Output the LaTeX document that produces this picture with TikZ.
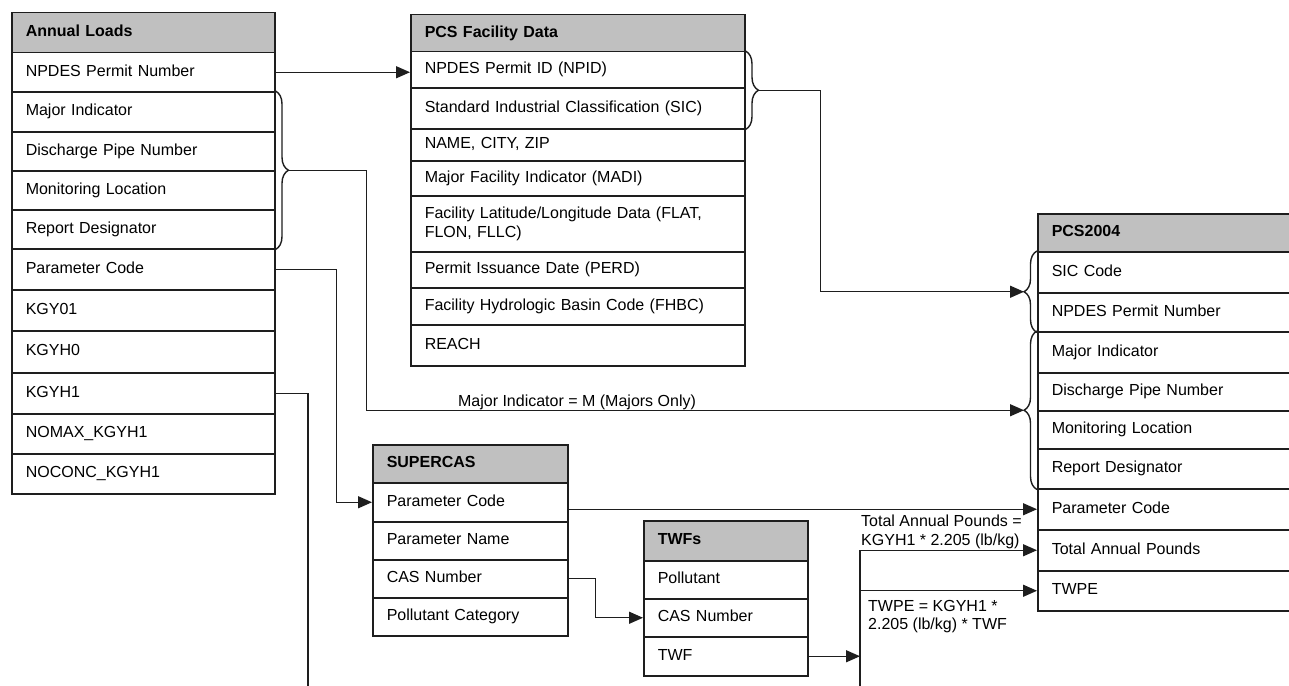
\documentclass[tikz,border=0pt]{standalone}
\usepackage{fontspec}
\setmainfont{Liberation Sans}
\usetikzlibrary{arrows.meta,decorations.pathreplacing,calc}
\definecolor{linec}{HTML}{1E1E1E}
\definecolor{hdrgray}{HTML}{C0C0C0}
\begin{document}
\begin{tikzpicture}[x=1pt,y=-1pt,
  font=\fontsize{16}{18.5}\selectfont,
  cell/.style={draw=linec, line width=1.5pt, rectangle, anchor=north west,
    align=left, inner xsep=14pt, inner ysep=0pt, text=black},
  one/.style={cell, text height=12pt, text depth=4pt},
  head/.style={one, fill=hdrgray, font=\fontsize{16}{18.5}\selectfont\bfseries},
  alw/.style={text width=235pt},
  pfw/.style={text width=306pt},
  scw/.style={text width=167pt},
  tww/.style={text width=136pt},
  p4w/.style={text width=242pt},
  conn/.style={draw=linec, line width=1.4pt},
  arr/.style={conn, -{Triangle[length=14pt,width=12pt]}},
  brace/.style={draw=linec, line width=1.4pt, decorate,
    decoration={brace, amplitude=13pt}},
  lbl/.style={inner sep=0pt, text=black, align=left}]

\useasboundingbox (0,0) rectangle (1289,685);
\fill[white] (0,0) rectangle (1289,685);
\clip (0,0) rectangle (1289,685);

% Annual Loads
\node[head, alw, minimum height=40pt] (al-0) at (11,12) {Annual Loads};
\node[one, alw, minimum height=39pt] (al-1) at (11,52) {NPDES Permit Number};
\node[one, alw, minimum height=40pt] (al-2) at (11,91) {Major Indicator};
\node[one, alw, minimum height=39pt] (al-3) at (11,131) {Discharge Pipe Number};
\node[one, alw, minimum height=39pt] (al-4) at (11,170) {Monitoring Location};
\node[one, alw, minimum height=39pt] (al-5) at (11,209) {Report Designator};
\node[one, alw, minimum height=41pt] (al-6) at (11,248) {Parameter Code};
\node[one, alw, minimum height=41pt] (al-7) at (11,289) {KGY01};
\node[one, alw, minimum height=42pt] (al-8) at (11,330) {KGYH0};
\node[one, alw, minimum height=41pt] (al-9) at (11,372) {KGYH1};
\node[one, alw, minimum height=40pt] (al-10) at (11,413) {NOMAX\_KGYH1};
\node[one, alw, minimum height=40pt] (al-11) at (11,453) {NOCONC\_KGYH1};

% PCS Facility Data
\node[head, pfw, minimum height=37pt] (pf-0) at (410,14) {PCS Facility Data};
\node[one, pfw, minimum height=36pt] (pf-1) at (410,51) {NPDES Permit ID (NPID)};
\node[one, pfw, minimum height=41pt] (pf-2) at (410,87) {Standard Industrial Classification (SIC)};
\node[one, pfw, minimum height=32pt] (pf-3) at (410,128) {NAME, CITY, ZIP};
\node[one, pfw, minimum height=35pt] (pf-4) at (410,160) {Major Facility Indicator (MADI)};
\node[cell, pfw, minimum height=56pt] (pf-5) at (410,195) {Facility Latitude/Longitude Data (FLAT,\\FLON, FLLC)};
\node[one, pfw, minimum height=36pt] (pf-6) at (410,251) {Permit Issuance Date (PERD)};
\node[one, pfw, minimum height=37pt] (pf-7) at (410,287) {Facility Hydrologic Basin Code (FHBC)};
\node[one, pfw, minimum height=41pt] (pf-8) at (410,324) {REACH};

% SUPERCAS
\node[head, scw, minimum height=38pt] (sc-0) at (372,444) {SUPERCAS};
\node[one, scw, minimum height=39pt] (sc-1) at (372,482) {Parameter Code};
\node[one, scw, minimum height=38pt] (sc-2) at (372,521) {Parameter Name};
\node[one, scw, minimum height=38pt] (sc-3) at (372,559) {CAS Number};
\node[one, scw, minimum height=38pt] (sc-4) at (372,597) {Pollutant Category};

% TWFs
\node[head, tww, minimum height=40pt] (tw-0) at (643,520) {TWFs};
\node[one, tww, minimum height=38pt] (tw-1) at (643,560) {Pollutant};
\node[one, tww, minimum height=38pt] (tw-2) at (643,598) {CAS Number};
\node[one, tww, minimum height=39pt] (tw-3) at (643,636) {TWF};

% PCS2004
\node[head, p4w, minimum height=38pt] (p4-0) at (1037,213) {PCS2004};
\node[one, p4w, minimum height=41pt] (p4-1) at (1037,251) {SIC Code};
\node[one, p4w, minimum height=39pt] (p4-2) at (1037,292) {NPDES Permit Number};
\node[one, p4w, minimum height=41pt] (p4-3) at (1037,331) {Major Indicator};
\node[one, p4w, minimum height=38pt] (p4-4) at (1037,372) {Discharge Pipe Number};
\node[one, p4w, minimum height=38pt] (p4-5) at (1037,410) {Monitoring Location};
\node[one, p4w, minimum height=40pt] (p4-6) at (1037,448) {Report Designator};
\node[one, p4w, minimum height=41pt] (p4-7) at (1037,488) {Parameter Code};
\node[one, p4w, minimum height=41pt] (p4-8) at (1037,529) {Total Annual Pounds};
\node[one, p4w, minimum height=40pt] (p4-9) at (1037,570) {TWPE};

% grouping braces
\draw[brace] (al-2.north east) -- (al-5.south east);
\coordinate (al-tip) at ($(al-2.north east)!0.5!(al-5.south east)+(13,0)$);
\draw[brace] (pf-1.north east) -- (pf-2.south east);
\coordinate (pf-tip) at ($(pf-1.north east)!0.5!(pf-2.south east)+(13,0)$);
\draw[brace] (p4-2.south west) -- (p4-1.north west);
\coordinate (p4-tipA) at ($(p4-1.north west)!0.5!(p4-2.south west)+(-13,0)$);
\draw[brace] (p4-6.south west) -- (p4-3.north west);
\coordinate (p4-tipB) at ($(p4-3.north west)!0.5!(p4-6.south west)+(-13,0)$);

% free ends at the lower edge
\coordinate (drop) at (308,690);
\coordinate (split) at (860,690);

% connectors
\draw[arr] (al-1.east) -- (al-1.east -| pf-1.west);
\draw[arr] (al-tip) -- ++(78,0) |- (p4-tipB);
\node[lbl, anchor=base] (maj-lbl) at (577,406) {Major Indicator = M (Majors Only)};
\draw[arr] (al-6.east) -- ++(61,0) |- (sc-1.west);
\draw[conn] (al-9.east) -| (drop);
\draw[arr] (pf-tip) -- ++(62,0) |- (p4-tipA);
\draw[arr] (sc-1.east |- p4-7.west) -- (p4-7.west);
\draw[arr] (sc-3.east) -- ++(27,0) |- (tw-2.west);
\draw[arr] (tw-3.east) -- (tw-3.east -| split);
\draw[conn] (split) -- (split |- p4-8.west);
\draw[arr] (split |- p4-8.west) -- (p4-8.west);
\draw[arr] (split |- p4-9.west) -- (p4-9.west);
\node[lbl, anchor=south west] (tap-lbl) at (861,549) {Total Annual Pounds =\\KGYH1 * 2.205 (lb/kg)};
\node[lbl, anchor=north west] (twpe-lbl) at (868,600) {TWPE = KGYH1 *\\2.205 (lb/kg) * TWF};
\end{tikzpicture}
\end{document}
